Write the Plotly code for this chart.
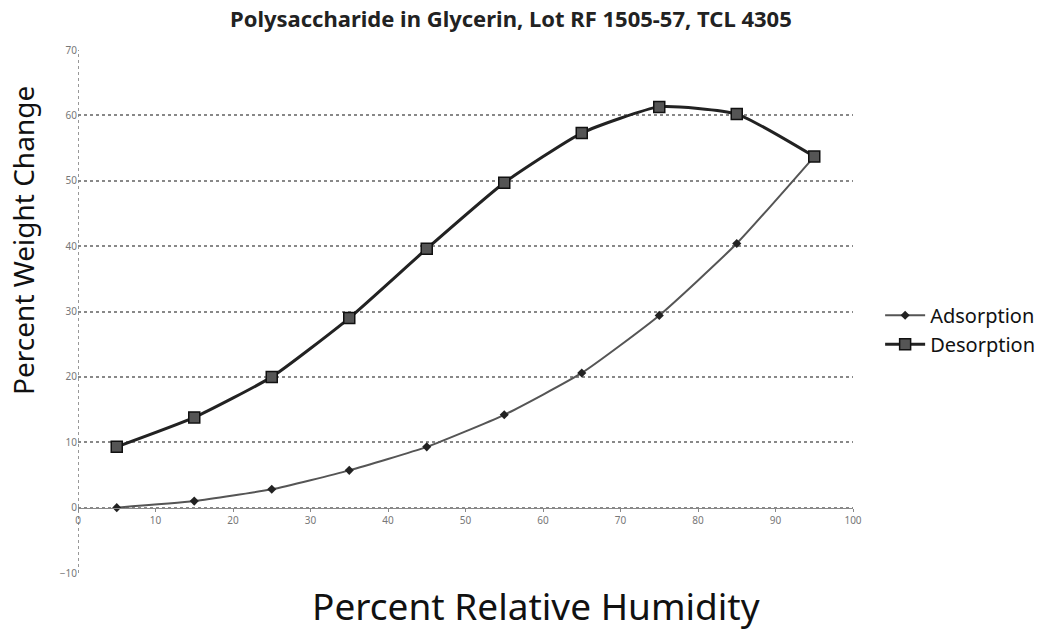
import plotly.graph_objects as go

rh = [5, 15, 25, 35, 45, 55, 65, 75, 85, 95]
adsorption = [0.0, 1.0, 2.8, 5.7, 9.3, 14.2, 20.6, 29.4, 40.4, 53.7]
desorption = [9.3, 13.8, 20.0, 29.0, 39.6, 49.7, 57.3, 61.3, 60.2, 53.7]
x_ticks = [0, 10, 20, 30, 40, 50, 60, 70, 80, 90, 100]
y_ticks = [-10, 0, 10, 20, 30, 40, 50, 60, 70]

font = "Noto Sans"

fig = go.Figure()
fig.add_trace(go.Scatter(
    x=rh, y=adsorption, name="Adsorption", mode="lines+markers",
    line=dict(color="#555555", width=2, shape="spline", smoothing=0.5),
    marker=dict(symbol="diamond", size=7, color="#222222"),
))
fig.add_trace(go.Scatter(
    x=rh, y=desorption, name="Desorption", mode="lines+markers",
    line=dict(color="#222222", width=3, shape="spline", smoothing=0.5),
    marker=dict(symbol="square", size=11, color="#555555",
                line=dict(color="#111111", width=1.5)),
))

# dotted vertical axis line at x = 0
fig.add_shape(type="line", x0=0, x1=0, y0=-10, y1=70, xref="x", yref="y",
              line=dict(color="#777777", width=1.5, dash="dot"), layer="below")

fig.update_layout(
    width=1061, height=634,
    margin=dict(l=78, r=208, t=50, b=61),
    plot_bgcolor="white", paper_bgcolor="white",
    font=dict(family=font, color="#111111"),
    showlegend=True,
    legend=dict(x=1.035, y=0.465, xanchor="left", yanchor="middle",
                font=dict(size=20, family=font), tracegroupgap=0,
                itemwidth=40, bgcolor="rgba(0,0,0,0)"),
    xaxis=dict(range=[0, 100], tickvals=x_ticks, showgrid=False, zeroline=False,
               anchor="free", position=0.125, showline=True, automargin=False,
               linecolor="#888888", linewidth=1,
               ticks="outside", ticklen=3, tickcolor="#888888",
               tickfont=dict(size=10, color="#777777")),
    yaxis=dict(range=[-10, 70], tickvals=y_ticks, showgrid=True, automargin=False,
               gridcolor="#888888", griddash="dot", gridwidth=1.5,
               zeroline=False, showline=False, ticks="",
               tickfont=dict(size=10, color="#777777")),
    annotations=[
        dict(text="<b>Polysaccharide in Glycerin, Lot RF 1505-57, TCL 4305</b>",
             xref="paper", yref="paper", x=0.559, y=1.0, yshift=32,
             xanchor="center", yanchor="middle",
             showarrow=False, font=dict(size=22, color="#222222")),
        dict(text="Percent Weight Change", textangle=-90,
             xref="paper", yref="paper", x=0, xshift=-55, y=0.635,
             xanchor="center", yanchor="middle",
             showarrow=False, font=dict(size=28)),
        dict(text="Percent Relative Humidity",
             xref="paper", yref="paper", x=0.591, y=0, yshift=-32,
             xanchor="center", yanchor="middle",
             showarrow=False, font=dict(size=37)),
    ],
)

# drop the browser's default body margin so the figure fills the window
fig.write_html("out.html", config={"displayModeBar": False},
               post_script="document.body.style.margin = '0';")
